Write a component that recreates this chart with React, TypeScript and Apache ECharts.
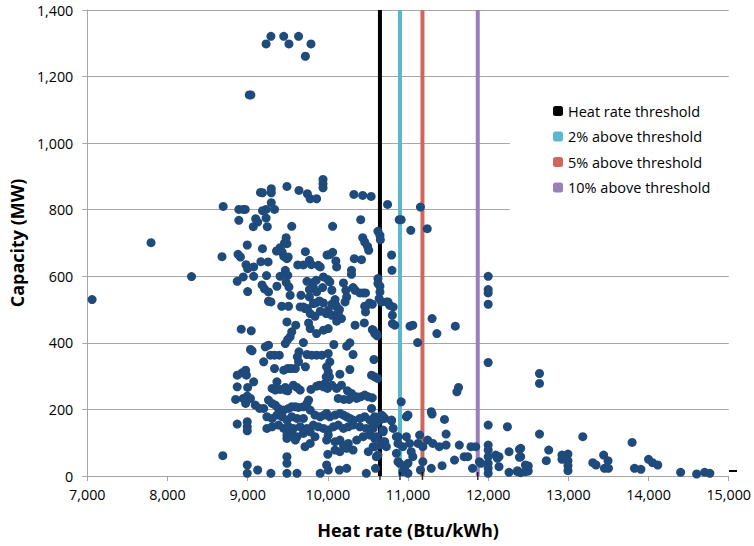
import React, { useEffect, useRef } from "react";
import * as echarts from "echarts";

const xTicks = { min: 7000, max: 15000, interval: 1000 };
const yTicks = { min: 0, max: 1400, interval: 200 };

const thresholdNames = ["Heat rate threshold", "2% above threshold", "5% above threshold", "10% above threshold"];
const thresholdValues = [10650, 10900, 11180, 11870];
const thresholdColors = ["#000000", "#5bb7d0", "#d0675c", "#9a7fbd"];

// [heat rate (Btu/kWh), capacity (MW)]
const plants: number[][] = [
  [9020,1145],[9040,1145],[9230,1298],[9290,1321],[9450,1321],[9515,1298],[9635,1321],[9720,1261],[9790,1298],
  [9160,852],[9185,851],[9295,863],[9295,851],[9490,870],[9640,858],[9745,848],[9780,833],[9860,833],[9940,891],[9940,878],[9940,866],[10325,846],[10435,843],[10540,840],
  [10745,816],[8695,810],[8890,801],[8945,801],[8970,801],[9185,797],[9230,801],[9295,821],[9335,801],[8890,768],[9100,773],[9125,763],[9070,749],[9230,775],[9245,749],[9550,750],[10060,750],[10410,770],[10625,735],[10650,723],[10655,710],[10890,770],
  [9480,716],[9460,700],[9490,698],[8995,694],[9185,683],[9360,676],[9405,686],[9430,673],[8680,659],[8880,666],[8910,658],[9450,660],[9490,653],[9505,658],[10435,716],[10460,703],[10495,690],[10510,678],[9720,674],[9625,634],[9695,634],[9770,648],[9795,635],[9880,633],[9905,628],[9990,664],[10060,672],[10020,665],[10100,646],[10110,628],[10330,653],[10420,650],[10795,664],[10800,618],
  [8980,635],[9000,623],[9075,628],[9165,644],[9255,643],[8945,598],[8870,585],[9075,600],[9235,602],[9405,600],[9470,618],[9500,603],[9000,554],[9180,574],[9210,562],[9260,553],[9365,570],[9480,582],[9515,568],[9530,543],[9260,525],[9290,523],[9425,510],[9510,510],[9665,543],[9740,585],[9800,580],[9855,588],[9945,598],[10000,590],[10025,583],[9770,560],[9820,566],[9860,553],[9770,538],[9850,520],[9895,526],[9695,508],[9745,503],[9935,566],[10050,558],[10090,530],[10100,513],[10145,500],[10050,516],[10005,498],[10195,580],[10225,558],[10235,538],[10295,618],[10295,606],[10315,566],[10340,558],[10400,550],[10440,550],[10470,550],[10475,510],[10470,493],[10555,516],[10625,593],[10625,578],[10650,570],[10650,553],[10640,533],[10730,523],[10770,513],[10805,483],
  [9820,518],[9945,520],[10110,508],[10215,523],[10460,510],[10520,520],[10670,523],
  [9780,488],[9840,480],[9905,495],[9980,488],[10050,483],[10130,490],[10170,473],[10110,465],[9715,503],[9655,508],[9490,463],[9600,453],[9550,433],[9530,418],[8920,441],[9045,436],[9760,460],[9780,443],[9860,428],[9945,438],[10005,443],[10340,453],[10455,460],[10555,440],[10585,428],[10615,421],[10805,458],[10835,453],[9470,398],[9500,410],[9695,401],[10075,395],[10235,390],[10275,400],[9035,380],[9055,376],[9220,388],[9260,393],[9285,363],[9335,363],[9395,363],[9200,343],[9335,323],[9450,318],[9500,323],[9540,323],[9595,323],[9640,373],[9620,358],[9635,343],[9740,365],[9800,363],[9860,363],[9925,363],[10005,368],[10025,343],[9720,328],[9985,328],[10005,313],[10020,298],[9980,298],[10150,306],[10275,320],[10315,365],[10575,350],[10545,303],[10585,298],[10620,293],
  [8870,303],[8930,310],[8975,318],[8985,303],[9075,283],[8870,268],[9000,266],[9365,283],[9470,266],[9570,273],[9615,266],[9655,258],[9305,263],[9345,258],[9405,260],[9470,258],[9500,256],[9790,260],[9860,270],[9895,273],[9945,268],[9965,278],[9995,263],[10050,273],[10110,263],[10170,273],[10245,256],[10295,248],[10360,238],[10130,233],[10200,230],[10265,230],[10360,233],[10410,238],[10460,243],[10505,238],[10555,235],
  [8850,230],[8945,233],[8995,240],[9035,233],[8975,218],[8995,228],[9095,213],[9150,203],[9200,203],[9260,228],[9305,218],[9345,213],[9385,203],[9450,198],[9510,203],[9550,208],[9595,208],[9635,206],[9695,208],[9740,218],[9760,228],[9780,198],
  [9840,183],[9905,178],[9955,183],[9985,188],[10025,178],[10090,183],[10150,188],[10195,183],[10235,178],[10275,173],[10315,168],[10400,173],[10460,178],[10525,168],[10585,178],[10670,183],[10710,173],[9240,178],[9305,173],[9365,183],[9430,178],[9490,168],[9550,178],[9615,173],[9695,173],
  [8870,156],[8995,163],[8995,148],[8995,136],[9240,143],[9305,148],[9385,153],[9450,143],[9510,148],[9570,143],[9655,148],[9740,143],[9820,153],[9880,148],[9945,143],[10005,138],[10070,148],[10130,153],[10195,143],[10255,148],[10315,153],[10400,148],[10480,143],[10565,143],[10585,158],[10670,173],[10690,138],[10795,168],[10815,143],[10855,118],[10875,98],[10855,68],[10875,43],
  [9490,123],[9550,128],[9615,118],[9695,128],[9780,133],[9840,118],[10005,123],[9985,108],[10090,103],[10150,108],[10195,93],[10255,98],[10360,108],[10440,118],[10525,123],[10585,113],[10565,88],[10650,93],[10730,88],[10690,103],[10625,63],[10505,73],[9715,88],[9780,98],[9490,113],[9595,108],
  [8690,61],[10000,65],[10090,78],[10150,73],[10235,83],[10315,78],[9490,58],[9490,38],[8995,33],[8995,8],[9125,18],[9290,8],[9490,8],[9615,8],[9905,8],[9985,33],[10005,18],[10145,18],[10235,23],[10480,8],[10595,23],
  [11155,808],[10915,770],[11035,738],[11240,743],[10750,523],[10815,508],[11300,473],[12000,600],[12000,560],[12000,550],[12000,516],
  [11360,428],[11590,450],[11025,450],[11060,453],[11120,401],[10565,438],[10605,428],[12000,341],[10545,203],[10915,223],[11610,253],[11630,266],[11290,193],[11300,186],[11455,170],[10980,178],[11000,183],[10690,178],[10650,168],[10605,158],[10565,153],[10795,166],[10690,133],[10710,103],[10605,118],[10585,88],[10605,58],
  [10875,118],[10935,88],[10980,118],[11020,98],[11040,73],[11060,58],[11000,38],[10960,28],[10895,38],[10935,13],[11000,8],[11145,123],[11125,98],[11185,88],[11245,108],[11310,98],[11390,88],[11475,126],[11475,93],[11640,93],[11580,48],[11185,43],[11155,18],[11290,23],[11425,31],[11700,58],[11745,58],[11785,88],[11845,88],[11805,23],
  [12000,153],[12240,148],[12000,93],[12000,78],[12000,58],[12000,38],[12000,23],[12000,8],[11890,43],[11910,38],[12095,63],[12115,53],[12260,73],[12405,83],[12405,58],[12365,13],[12465,33],[12465,13],
  [12640,308],[12640,278],[12640,126],[12135,58],[12135,28],[12260,11],[12365,16],[12405,10],[12390,80],[12390,56],[12500,30],[12500,15],[12725,46],[12755,78],[12920,63],[12920,50],[12995,66],[12995,46],[12995,31],[12995,16],[13180,118],[13305,40],[13345,33],[13440,63],[13495,46],[13450,23],[13500,23],[13795,101],[13825,23],[13905,20],[14000,50],[14050,40],[14115,33],[14400,11],[14600,6],[14700,11],[14765,8],
  [7060,530],[7795,701],[8300,599]
];

const FONT = "'Open Sans', 'Noto Sans', sans-serif";

export default function App() {
  const ref = useRef<HTMLDivElement>(null);
  useEffect(() => {
    const chart = echarts.init(ref.current!, null, { renderer: "svg" });
    const lineSeries = thresholdNames.map((name, i) => ({
      name,
      type: "line",
      data: [[thresholdValues[i], yTicks.min], [thresholdValues[i], yTicks.max]],
      symbol: "none",
      lineStyle: { color: thresholdColors[i], width: 4 },
      itemStyle: { color: thresholdColors[i] },
      z: 1,
    }));
    chart.setOption({
      animation: false,
      backgroundColor: "#ffffff",
      grid: { left: 86, right: 24, top: 10, bottom: 70 },
      legend: {
        data: thresholdNames.map((n) => ({ name: n, icon: "roundRect" })),
        orient: "vertical",
        left: 510,
        top: 90,
        padding: [13, 30, 19, 43],
        backgroundColor: "#ffffff",
        itemWidth: 10,
        itemHeight: 10,
        itemGap: 9.5,
        textStyle: { fontFamily: FONT, fontSize: 14.5, color: "#000", lineHeight: 16 },
      },
      xAxis: {
        type: "value",
        min: xTicks.min,
        max: xTicks.max,
        interval: xTicks.interval,
        name: "Heat rate (Btu/kWh)",
        nameLocation: "middle",
        nameGap: 45,
        nameTextStyle: { fontFamily: FONT, fontSize: 18, fontWeight: "bold", color: "#000" },
        axisLine: { show: true, lineStyle: { color: "#a6a6a6", width: 1 } },
        axisTick: { show: true, length: 5, lineStyle: { color: "#a6a6a6" } },
        splitLine: { show: false },
        axisLabel: {
          fontFamily: FONT, fontSize: 14.3, color: "#000", margin: 11,
          formatter: (v: number) => v.toLocaleString("en-US"),
        },
      },
      yAxis: {
        type: "value",
        min: yTicks.min,
        max: yTicks.max,
        interval: yTicks.interval,
        name: "Capacity (MW)",
        nameLocation: "middle",
        nameGap: 58,
        nameTextStyle: { fontFamily: FONT, fontSize: 18, fontWeight: "bold", color: "#000" },
        axisLine: { show: true, lineStyle: { color: "#a6a6a6", width: 1 } },
        axisTick: { show: true, length: 5, lineStyle: { color: "#a6a6a6" } },
        splitLine: { show: true, lineStyle: { color: "#a6a6a6", width: 1 } },
        axisLabel: {
          fontFamily: FONT, fontSize: 14.3, color: "#000", margin: 14,
          padding: [4, 0, 0, 0],
          formatter: (v: number) => v.toLocaleString("en-US"),
        },
      },
      graphic: [
        { type: "rect", shape: { x: 729, y: 470, width: 8, height: 2 }, style: { fill: "#000" } },
      ],
      series: [
        ...lineSeries,
        {
          name: "Plants",
          type: "scatter",
          data: plants,
          symbol: "circle",
          symbolSize: 9,
          itemStyle: { color: "#1f4a7c", opacity: 1 },
          z: 3,
        },
        {
          name: "Threshold ticks",
          type: "scatter",
          data: thresholdValues.map((v) => [v, yTicks.min]),
          symbol: "rect",
          symbolSize: [1.5, 8],
          itemStyle: { color: "#000" },
          silent: true,
          z: 4,
        },
      ],
    });
    return () => chart.dispose();
  }, []);
  return (
    <div
      ref={ref}
      style={{ width: 754, height: 546, position: "fixed", left: 0, top: 0 }}
    />
  );
}
